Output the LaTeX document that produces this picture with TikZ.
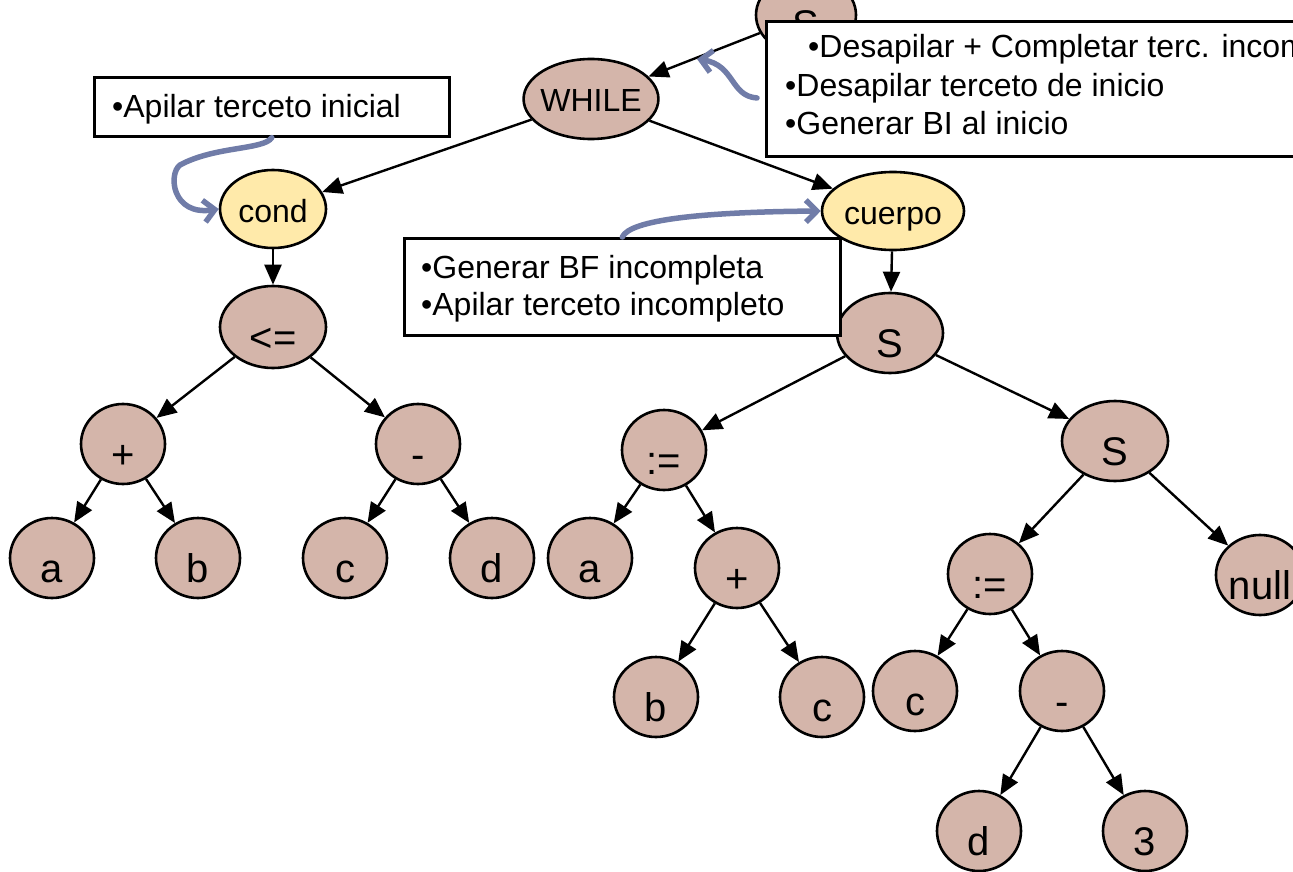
\documentclass[tikz,border=0pt]{standalone}
\usepackage{fontspec}
\setmainfont{Liberation Sans}
\usetikzlibrary{shapes.geometric,arrows.meta}
\definecolor{nodefill}{RGB}{212,181,170}
\definecolor{keyfill}{RGB}{255,234,170}
\definecolor{noteblue}{RGB}{112,124,168}
\begin{document}
\begin{tikzpicture}[x=1pt,y=-1pt,
  tnode/.style={ellipse, draw=black, line width=2.6pt, fill=nodefill, inner sep=0pt,
    minimum width=84pt, minimum height=80pt,
    font=\fontsize{40}{48}\selectfont, text height=48pt, text depth=0pt},
  wide/.style={minimum width=106pt},
  knode/.style={tnode, font=\fontsize{32}{38}\selectfont, text height=26pt},
  tedge/.style={draw=black, line width=2.4pt, -{Triangle[length=20pt,width=17pt]}},
  notebox/.style={draw=black, line width=2.6pt, fill=white, inner sep=0pt, anchor=north west},
  notetext/.style={font=\fontsize{32}{38}\selectfont, anchor=base west, inner sep=0pt},
  notearrow/.style={draw=noteblue, line width=5.5pt, line cap=round,
    -{Straight Barb[length=11pt,width=22pt]}}
]
\useasboundingbox (0,0) rectangle (1293,872);
\clip (0,0) rectangle (1293,872);

% upper part of the tree
\node[tnode, minimum width=100pt] (s0) at (806,15) {S};
\node[knode, minimum width=130pt, inner xsep=-3pt] (while) at (591,99) {WHILE};
\node[knode, fill=keyfill, minimum width=106pt, minimum height=78pt] (cond) at (273,209) {cond};
\node[knode, fill=keyfill, minimum width=142pt, minimum height=78pt] (cuerpo) at (893,211) {cuerpo};

% condition subtree
\node[tnode, minimum width=106pt, minimum height=82pt] (le) at (273,327) {<=};
\node[tnode] (plus1) at (123,444) {+};
\node[tnode] (minus1) at (418,444) {-};
\node[tnode] (a1) at (52,558) {a};
\node[tnode] (b1) at (198,558) {b};
\node[tnode] (c1) at (345,558) {c};
\node[tnode] (d1) at (492,558) {d};

% body subtree
\node[tnode, wide] (s1) at (890,333) {S};
\node[tnode] (asg1) at (664,450) {:=};
\node[tnode, wide] (s2) at (1115,441) {S};
\node[tnode] (a2) at (590,558) {a};
\node[tnode] (plus2) at (737,568) {+};
\node[tnode] (b2) at (656,697) {b};
\node[tnode] (c2) at (822,697) {c};
\node[tnode] (asg2) at (990,574) {:=};
\node[tnode, minimum width=86pt] (null) at (1260,575) {null};
\node[tnode] (c3) at (915,691) {c};
\node[tnode] (minus2) at (1062,691) {-};
\node[tnode] (d3) at (979,831) {d};
\node[tnode] (three) at (1145,831) {3};

% tree edges
\draw[tedge] (s0) -- (while);
\draw[tedge] (while) -- (cond);
\draw[tedge] (while) -- (cuerpo);
\draw[tedge] (cond) -- (le);
\draw[tedge] (le) -- (plus1);
\draw[tedge] (le) -- (minus1);
\draw[tedge] (plus1) -- (a1);
\draw[tedge] (plus1) -- (b1);
\draw[tedge] (minus1) -- (c1);
\draw[tedge] (minus1) -- (d1);
\draw[tedge] (cuerpo) -- (s1);
\draw[tedge] (s1) -- (asg1);
\draw[tedge] (s1) -- (s2);
\draw[tedge] (asg1) -- (a2);
\draw[tedge] (asg1) -- (plus2);
\draw[tedge] (plus2) -- (b2);
\draw[tedge] (plus2) -- (c2);
\draw[tedge] (s2) -- (asg2);
\draw[tedge] (s2) -- (null);
\draw[tedge] (asg2) -- (c3);
\draw[tedge] (asg2) -- (minus2);
\draw[tedge] (minus2) -- (d3);
\draw[tedge] (minus2) -- (three);

% action notes
\node[notebox, minimum width=355pt, minimum height=59pt] (boxinit) at (93,76) {};
\node[notebox, minimum width=545pt, minimum height=135pt] (boxend) at (765,20) {};
\node[notebox, minimum width=436pt, minimum height=97pt] (boxbf) at (403,237) {};

\node[notetext] (t1) at (112,118) {•Apilar terceto inicial};
\node[notetext] (t2) at (808,58) {•Desapilar + Completar terc. incompleto};
\node[notetext] (t3) at (785,97) {•Desapilar terceto de inicio};
\node[notetext] (t4) at (785,135) {•Generar BI al inicio};
\node[notetext] (t5) at (421,278) {•Generar BF incompleta};
\node[notetext] (t6) at (421,315) {•Apilar terceto incompleto};

% pointers from the notes
\coordinate (cstart) at (757,98);
\coordinate (ctip) at (697,59);
\draw[notearrow] (boxinit.south) .. controls (264,150) and (215,146) .. (180,165)
  .. controls (168,174) and (172,216) .. (cond.west);
\draw[notearrow] (boxbf.north) .. controls (630,220) and (700,212) .. (cuerpo.west);
\draw[notearrow] (cstart) .. controls (730,96) and (735,65) .. (ctip);
\end{tikzpicture}
\end{document}
